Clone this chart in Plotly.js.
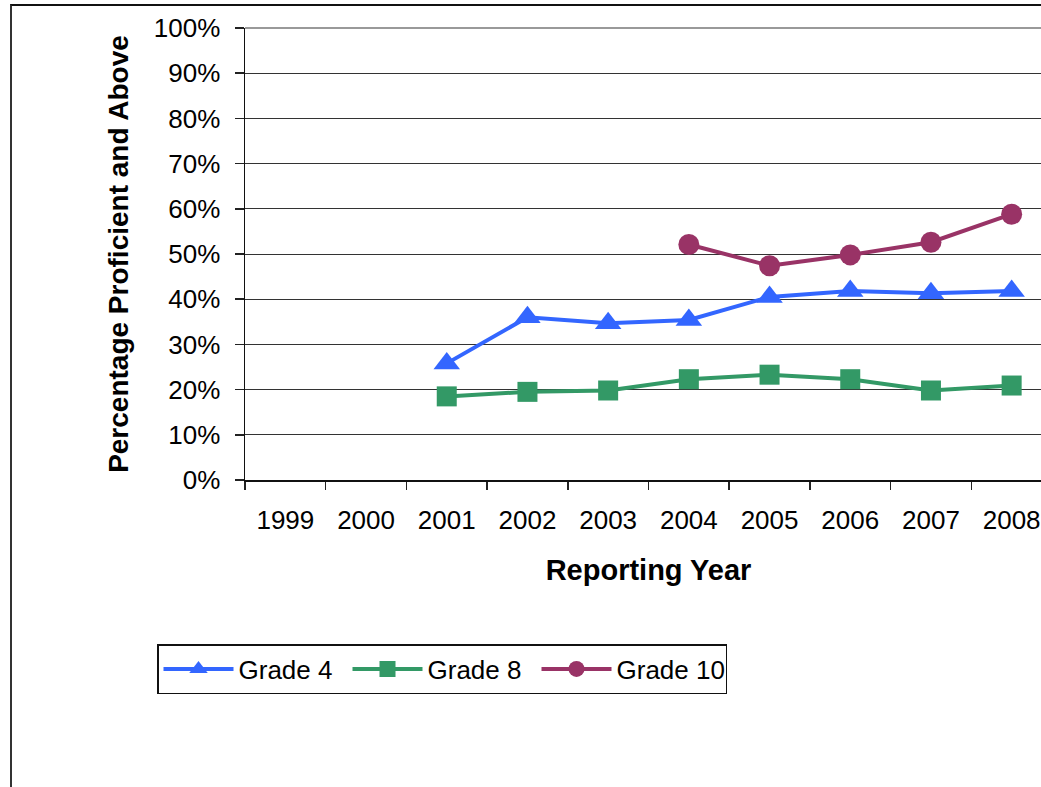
<!DOCTYPE html>
<html>
<head>
<meta charset="utf-8">
<script src="https://cdn.plot.ly/plotly-3.0.1.min.js"></script>
<style>
  html, body { margin: 0; padding: 0; overflow: hidden; background: #fff; }
  #chart { position: absolute; left: 0; top: 0; }
  #frame { position: absolute; left: 10px; top: 4px; width: 1100px; height: 900px;
           border-left: 2px solid #333; border-top: 2px solid #111; pointer-events: none; }
</style>
</head>
<body>
<div id="chart"></div>
<div id="frame"></div>
<script>
const years = ['1999','2000','2001','2002','2003','2004','2005','2006','2007','2008'];
const grade4 = [null, null, 25.8, 36.0, 34.7, 35.4, 40.5, 41.8, 41.3, 41.8];
const grade8 = [null, null, 18.5, 19.5, 19.8, 22.3, 23.3, 22.3, 19.8, 20.9];
const grade10 = [null, null, null, null, null, 52.1, 47.4, 49.8, 52.6, 58.8];
const yTicks = [0,10,20,30,40,50,60,70,80,90,100];

const FONT = 'Arial, "Liberation Sans", sans-serif';
const W = 1062, H = 787;

const traces = [
  {x: years, y: grade4, name: 'Grade 4', type: 'scatter', mode: 'lines+markers',
   line: {color: '#3366FF', width: 4}, marker: {symbol: 'triangle-up', size: 23, color: '#3366FF'}},
  {x: years, y: grade8, name: 'Grade 8', type: 'scatter', mode: 'lines+markers',
   line: {color: '#339966', width: 4}, marker: {symbol: 'square', size: 20, color: '#339966'}},
  {x: years, y: grade10, name: 'Grade 10', type: 'scatter', mode: 'lines+markers',
   line: {color: '#993366', width: 4}, marker: {symbol: 'circle', size: 21, color: '#993366'}}
];

const layout = {
  width: W, height: H,
  margin: {l: 245, r: 10, t: 28, b: 307},
  paper_bgcolor: '#fff', plot_bgcolor: '#fff',
  font: {family: FONT, size: 26, color: '#000'},
  showlegend: true,
  xaxis: {
    type: 'category', range: [-0.5, 9.5], fixedrange: true,
    tickmode: 'array', tickvals: years, ticktext: years,
    tickson: 'boundaries', ticks: 'outside', ticklen: 8, tickwidth: 1.5, tickcolor: '#222',
    showline: true, linecolor: '#111', linewidth: 1.5,
    showgrid: false, zeroline: false,
    ticklabelstandoff: 16,
    tickfont: {family: FONT, size: 26, color: '#000'},
    title: {text: '<b>Reporting Year</b>', font: {family: FONT, size: 29, color: '#000'}, standoff: 26}
  },
  yaxis: {
    range: [0, 100], fixedrange: true,
    tickmode: 'array', tickvals: yTicks, ticktext: yTicks.map(v => v + '%'),
    ticks: 'outside', ticklen: 9, tickwidth: 1.5, tickcolor: '#222',
    showline: true, linecolor: '#111', linewidth: 1.5,
    showgrid: true, gridcolor: '#333', gridwidth: 1, zeroline: false,
    ticklabelstandoff: 9,
    tickfont: {family: FONT, size: 26, color: '#000'},
    title: {text: '<b>Percentage Proficient and Above</b>', font: {family: FONT, size: 28, color: '#000'}, standoff: 17}
  },
  shapes: [
    {type: 'line', xref: 'paper', yref: 'paper', x0: 0, x1: 1, y0: 1, y1: 1,
     line: {color: '#999', width: 2}, layer: 'above'}
  ],
  legend: {
    orientation: 'h', xref: 'container', yref: 'container',
    x: 157 / W, xanchor: 'left', y: 1 - 644 / H, yanchor: 'top',
    bordercolor: '#111', borderwidth: 1.5, bgcolor: '#fff',
    font: {family: FONT, size: 26, color: '#000'},
    itemwidth: 70, entrywidth: 104, itemclick: false, itemdoubleclick: false
  }
};

Plotly.newPlot('chart', traces, layout, {staticPlot: true, displayModeBar: false});
</script>
</body>
</html>
